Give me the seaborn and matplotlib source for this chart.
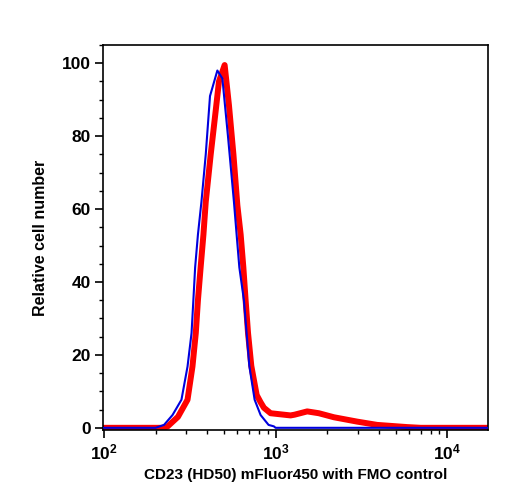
import numpy as np
import pandas as pd
import matplotlib
matplotlib.use("Agg")
import matplotlib.pyplot as plt
import matplotlib.transforms as mtransforms
import seaborn as sns
from matplotlib.ticker import LogLocator, FixedLocator, NullFormatter, MultipleLocator

# FMO control (blue, thin)
fmo_x = [100, 200, 224, 251, 283, 307, 324, 332, 340, 353, 370, 392, 415, 458,
         490, 528, 572, 593, 615, 654, 678, 703, 755, 818, 910, 977, 1000, 17500]
fmo_y = [0, 0, 0.8, 3.5, 7.7, 16.8, 26, 35, 44, 53, 62, 75, 91, 98,
         95.8, 80, 62, 53, 44, 35, 26, 17, 7.7, 3.5, 0.8, 0.4, 0, 0]

# CD23 stained (red, thick)
cd23_x = [100, 219, 234, 270, 307, 328, 343, 353, 366, 380, 392, 419, 448, 468,
          505, 535, 568, 599, 626, 649, 669, 691, 722, 776, 818, 855, 935, 1222,
          1290, 1528, 1786, 2183, 2985, 3900, 5830, 7000, 17500]
cd23_y = [0, 0, 0.3, 3, 7.7, 16.8, 26, 35, 44, 53, 62, 75, 87, 95,
          99.5, 88.5, 75, 61, 53, 44, 35, 26, 17, 9, 7, 5.5, 4, 3.4,
          3.6, 4.5, 4, 2.9, 1.7, 0.8, 0.2, 0, 0]

y_ticks = [0, 20, 40, 60, 80, 100]
x_ticks = [100, 1000, 10000]
x_tick_labels = [r'$\mathbf{10^{2}}$', r'$\mathbf{10^{3}}$', r'$\mathbf{10^{4}}$']

fmo_df = pd.DataFrame({'x': fmo_x, 'y': fmo_y})
cd23_df = pd.DataFrame({'x': cd23_x, 'y': cd23_y})

sns.set_style("ticks")
plt.rcParams['font.family'] = ['Liberation Sans', 'DejaVu Sans']
plt.rcParams['font.weight'] = 'bold'
plt.rcParams['text.color'] = 'black'
plt.rcParams['axes.labelcolor'] = 'black'
plt.rcParams['xtick.color'] = 'black'
plt.rcParams['ytick.color'] = 'black'
plt.rcParams['mathtext.fontset'] = 'custom'
plt.rcParams['mathtext.bf'] = 'Liberation Sans:bold'
plt.rcParams['mathtext.rm'] = 'Liberation Sans:bold'

fig = plt.figure(figsize=(5.08, 5.0), dpi=100)
ax = fig.add_axes([0.203, 0.14, 0.758, 0.77])

sns.lineplot(data=cd23_df, x='x', y='y', color='#ff0000', linewidth=4.3, ax=ax,
             estimator=None, sort=False, zorder=2)
sns.lineplot(data=fmo_df, x='x', y='y', color='#0000dd', linewidth=1.5, ax=ax,
             estimator=None, sort=False, zorder=3)

ax.set_xscale('log')
ax.set_xlim(99, 17300)
ax.set_ylim(-0.6, 105)

ax.xaxis.set_major_locator(FixedLocator(x_ticks))
ax.set_xticklabels(x_tick_labels, fontsize=12.5, color='black')
ax.xaxis.set_minor_locator(LogLocator(base=10, subs=np.arange(2, 10)))
ax.xaxis.set_minor_formatter(NullFormatter())

# shift labels right so the "10" sits on the tick as in the reference
shifts = [17, 8, 8]
for lab, dx in zip(ax.get_xticklabels(), shifts):
    lab.set_transform(lab.get_transform() + mtransforms.ScaledTranslation(dx / 100, 0, fig.dpi_scale_trans))

ax.set_yticks(y_ticks)
ax.set_yticklabels([str(v) for v in y_ticks], fontsize=12.5, fontweight='bold', color='black')
ax.yaxis.set_minor_locator(MultipleLocator(5))

ax.tick_params(axis='both', which='major', direction='out', length=6, width=1.2, color='black')
ax.tick_params(axis='both', which='minor', direction='out', length=3, width=1.0, color='black')
ax.tick_params(axis='x', which='major', pad=3)
ax.tick_params(axis='y', which='major', pad=3)

for side in ['top', 'right', 'left', 'bottom']:
    ax.spines[side].set_visible(True)
    ax.spines[side].set_linewidth(1.2)
    ax.spines[side].set_color('black')

ax.set_xlabel('CD23 (HD50) mFluor450 with FMO control', fontsize=11, fontweight='bold',
              labelpad=4, color='black')
ax.set_ylabel('Relative cell number', fontsize=11.5, fontweight='bold', labelpad=10, color='black')

fig.savefig('out.png', dpi=100)
